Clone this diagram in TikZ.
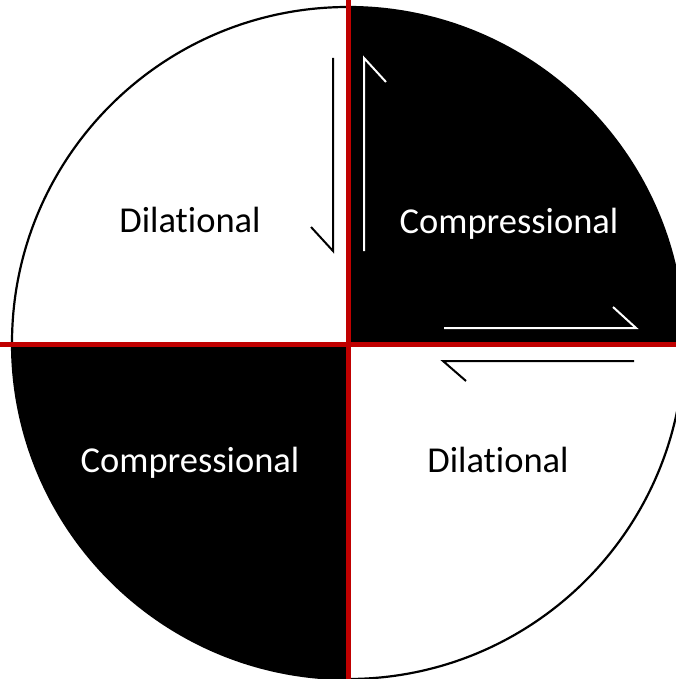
\documentclass[tikz,border=0pt]{standalone}
\usepackage{fontspec}
\setmainfont{Carlito}[Ligatures={NoCommon,NoRequired,NoContextual}]
\definecolor{faultred}{RGB}{192,0,0}
\tikzset{
  lbl/.style={anchor=base, inner sep=0pt, font=\fontsize{36.5}{42}\selectfont},
  slipw/.style={draw=white, line width=2pt, line cap=butt, line join=miter},
  slipb/.style={draw=black, line width=2pt, line cap=butt, line join=miter},
}
\begin{document}
\begin{tikzpicture}[x=1pt,y=-1pt]
\useasboundingbox (0,0) rectangle (676,679);
\clip (0,0) rectangle (676,679);
\fill[white] (0,0) rectangle (676,679);
\coordinate (c) at (348,343);
% quadrants
\fill[black] (c) -- (684,343) arc[start angle=0, end angle=-90, radius=336] -- cycle;
\fill[black] (c) -- (12,343) arc[start angle=180, end angle=90, radius=336] -- cycle;
\draw[black, line width=2.2pt] (c) circle[radius=336];
% nodal planes
\draw[faultred, line width=5pt] (348,0) -- (348,690);
\draw[faultred, line width=5pt] (0,344) -- (690,344);
% slip arrows
\draw[slipb] (333,58) -- (333,251) -- (311,227);
\draw[slipw] (364,251) -- (364,58) -- (386,82);
\draw[slipw] (444,328) -- (636,328) -- (613,307);
\draw[slipb] (634,361) -- (443,361) -- (466,381);
% labels
\node[lbl, text=black] (d1) at (190,232) {Dilational};
\node[lbl, text=white] (c1) at (509,233) {Compressional};
\node[lbl, text=white] (c2) at (190,472) {Compressional};
\node[lbl, text=black] (d2) at (498,472) {Dilational};
\end{tikzpicture}
\end{document}
